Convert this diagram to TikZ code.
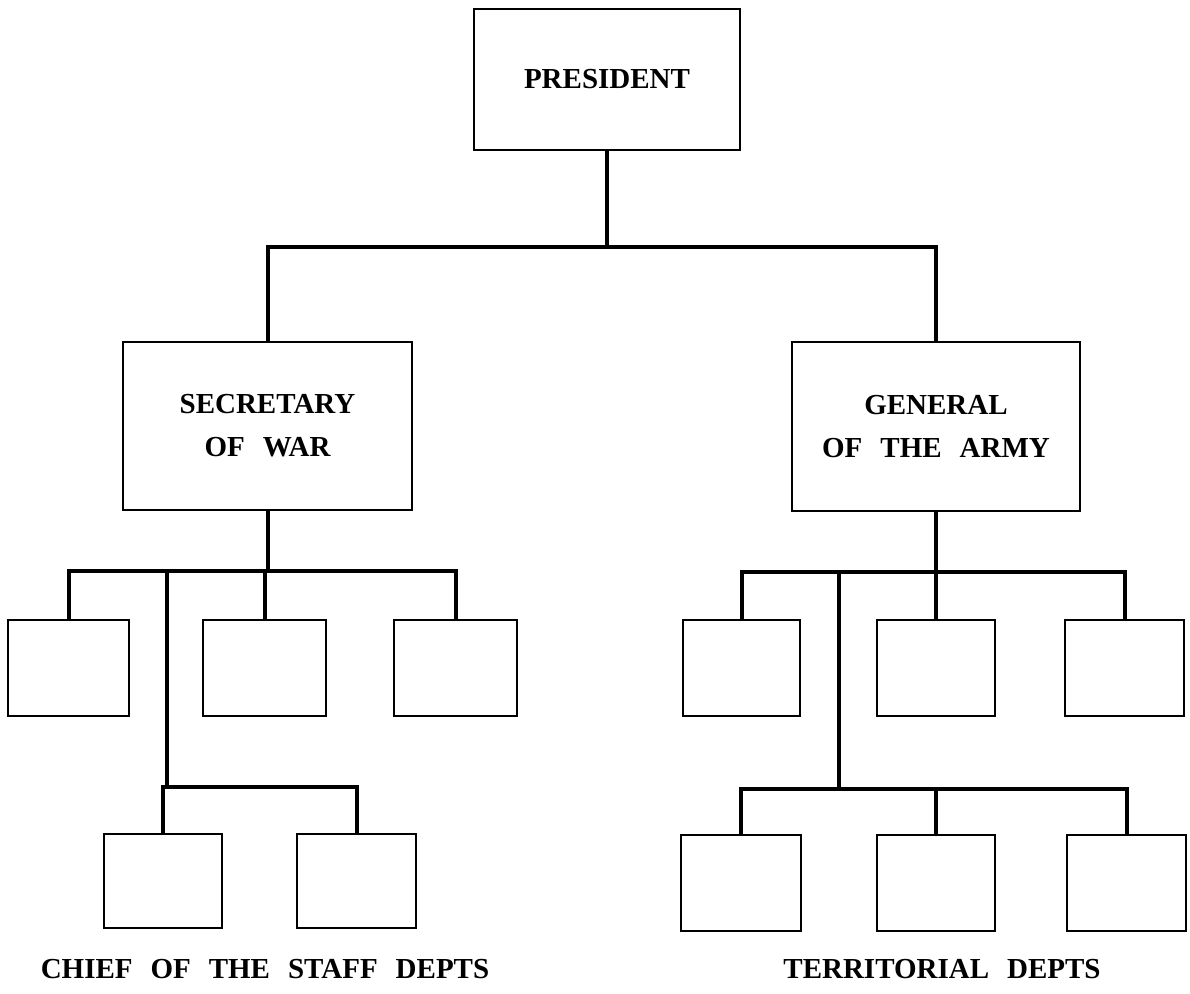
\documentclass[tikz,border=0pt]{standalone}
\usepackage{fontspec}
\setmainfont{Liberation Serif}
\newcommand{\wordgap}{\hspace{0.62em}}
\begin{document}
\begin{tikzpicture}[x=1pt,y=-1pt,
  orgbox/.style={draw, line width=2.6pt, inner sep=0pt, align=center,
    font=\bfseries\fontsize{29}{43}\selectfont},
  smallbox/.style={orgbox, minimum width=119pt, minimum height=96pt},
  linkline/.style={line width=4pt, line cap=rect, line join=miter},
  caption/.style={inner sep=0pt, font=\bfseries\fontsize{29}{34}\selectfont}]
\useasboundingbox (0,0) rectangle (1190,993);

% top of the chain of command
\node[orgbox, minimum width=266pt, minimum height=141pt] (pres) at (607,79.5) {PRESIDENT};
\node[orgbox, minimum width=289pt, minimum height=168pt] (sow) at (267.5,426) {SECRETARY\\OF\wordgap WAR};
\node[orgbox, minimum width=288pt, minimum height=169pt] (gen) at (936,426.5) {GENERAL\\OF\wordgap THE\wordgap ARMY};

% staff departments under the Secretary of War
\node[smallbox, minimum width=121pt] (la) at (68.5,668) {};
\node[smallbox, minimum width=123pt] (lb) at (264.5,668) {};
\node[smallbox, minimum width=123pt] (lc) at (455.5,668) {};
\node[smallbox, minimum width=118pt, minimum height=94pt] (ld) at (163,881) {};
\node[smallbox, minimum width=119pt, minimum height=94pt] (le) at (356.5,881) {};

% territorial departments under the General of the Army
\node[smallbox, minimum width=117pt] (ra) at (741.5,668) {};
\node[smallbox, minimum width=118pt] (rb) at (936,668) {};
\node[smallbox, minimum width=119pt] (rc) at (1124.5,668) {};
\node[smallbox, minimum width=120pt] (rd) at (741,883) {};
\node[smallbox, minimum width=118pt] (re) at (936,883) {};
\node[smallbox, minimum width=119pt] (rf) at (1126.5,883) {};

% captions
\node[caption] (capl) at (265,969) {CHIEF\wordgap OF\wordgap THE\wordgap STAFF\wordgap DEPTS};
\node[caption] (capr) at (942,969) {TERRITORIAL\wordgap DEPTS};

% bus levels
\coordinate (topbus) at (607,247);
\coordinate (lbus) at (267.5,571);
\coordinate (lbus2) at (167,787);
\coordinate (rbus) at (936,572);
\coordinate (rbus2) at (839,789);

% president to the two branches
\draw[linkline] (pres.south) -- (topbus);
\draw[linkline] (sow.north) -- (sow.north |- topbus) -- (gen.north |- topbus) -- (gen.north);

% left branch
\draw[linkline] (sow.south) -- (lbus);
\draw[linkline] (la.north) -- (la.north |- lbus) -- (lc.north |- lbus) -- (lc.north);
\draw[linkline] (lb.north) -- (lb.north |- lbus);
\draw[linkline] (lbus2 |- lbus) -- (lbus2);
\draw[linkline] (ld.north) -- (ld.north |- lbus2) -- (le.north |- lbus2) -- (le.north);

% right branch
\draw[linkline] (gen.south) -- (rbus);
\draw[linkline] (ra.north) -- (ra.north |- rbus) -- (rc.north |- rbus) -- (rc.north);
\draw[linkline] (rb.north) -- (rb.north |- rbus);
\draw[linkline] (rbus2 |- rbus) -- (rbus2);
\draw[linkline] (rd.north) -- (rd.north |- rbus2) -- (rf.north |- rbus2) -- (rf.north);
\draw[linkline] (re.north) -- (re.north |- rbus2);
\end{tikzpicture}
\end{document}
